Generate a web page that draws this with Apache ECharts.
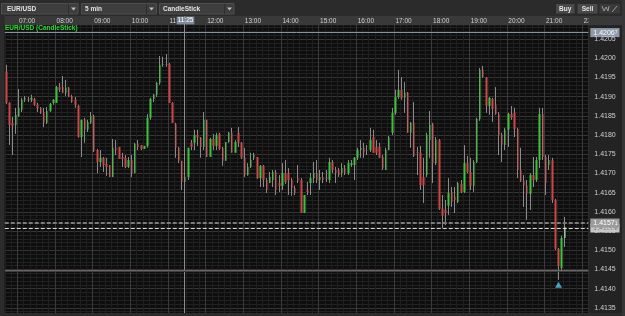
<!DOCTYPE html>
<html><head><meta charset="utf-8">
<script src="https://cdn.jsdelivr.net/npm/echarts@6/dist/echarts.min.js"></script>
<style>html,body{margin:0;padding:0;background:#0e0e0e;}#c{width:625px;height:316px;}</style>
</head><body><div id="c"></div>
<script>
// 5-minute categories (06:40 .. 22:05)
const times = [
"06:40","06:45","06:50","06:55",
"07:00","07:05","07:10","07:15","07:20","07:25","07:30","07:35","07:40","07:45","07:50","07:55",
"08:00","08:05","08:10","08:15","08:20","08:25","08:30","08:35","08:40","08:45","08:50","08:55",
"09:00","09:05","09:10","09:15","09:20","09:25","09:30","09:35","09:40","09:45","09:50","09:55",
"10:00","10:05","10:10","10:15","10:20","10:25","10:30","10:35","10:40","10:45","10:50","10:55",
"11:00","11:05","11:10","11:15","11:20","11:25","11:30","11:35","11:40","11:45","11:50","11:55",
"12:00","12:05","12:10","12:15","12:20","12:25","12:30","12:35","12:40","12:45","12:50","12:55",
"13:00","13:05","13:10","13:15","13:20","13:25","13:30","13:35","13:40","13:45","13:50","13:55",
"14:00","14:05","14:10","14:15","14:20","14:25","14:30","14:35","14:40","14:45","14:50","14:55",
"15:00","15:05","15:10","15:15","15:20","15:25","15:30","15:35","15:40","15:45","15:50","15:55",
"16:00","16:05","16:10","16:15","16:20","16:25","16:30","16:35","16:40","16:45","16:50","16:55",
"17:00","17:05","17:10","17:15","17:20","17:25","17:30","17:35","17:40","17:45","17:50","17:55",
"18:00","18:05","18:10","18:15","18:20","18:25","18:30","18:35","18:40","18:45","18:50","18:55",
"19:00","19:05","19:10","19:15","19:20","19:25","19:30","19:35","19:40","19:45","19:50","19:55",
"20:00","20:05","20:10","20:15","20:20","20:25","20:30","20:35","20:40","20:45","20:50","20:55",
"21:00","21:05","21:10","21:15","21:20","21:25","21:30","21:35","21:40","21:45","21:50","21:55",
"22:00","22:05"];

const opens = [1.41965,1.41884,1.41832,1.41826,1.41850,1.41866,1.41892,1.41894,1.41892,1.41894,1.41879,1.41871,1.41860,1.41832,1.41863,1.41884,1.41884,1.41925,1.41925,1.41910,
1.41923,1.41902,1.41892,1.41876,1.41795,1.41840,1.41814,1.41832,1.41850,1.41761,1.41730,1.41741,1.41725,1.41722,1.41691,1.41767,1.41769,1.41743,1.41741,1.41717,
1.41735,1.41701,1.41777,1.41774,1.41764,1.41772,1.41845,1.41894,1.41905,1.41936,1.41983,1.41985,1.41985,1.41884,1.41829,1.41767,1.41733,1.41678,1.41691,1.41780,
1.41780,1.41800,1.41793,1.41769,1.41840,1.41743,1.41790,1.41772,1.41803,1.41767,1.41733,1.41782,1.41806,1.41754,1.41806,1.41780,1.41741,1.41696,1.41717,1.41741,
1.41743,1.41688,1.41720,1.41683,1.41675,1.41683,1.41704,1.41675,1.41668,1.41701,1.41701,1.41683,1.41662,1.41688,1.41683,1.41597,1.41657,1.41675,1.41688,1.41701,
1.41683,1.41691,1.41688,1.41683,1.41730,1.41709,1.41709,1.41701,1.41714,1.41701,1.41722,1.41722,1.41741,1.41761,1.41767,1.41761,1.41761,1.41795,1.41769,1.41769,
1.41743,1.41709,1.41761,1.41806,1.41858,1.41899,1.41918,1.41897,1.41910,1.41806,1.41832,1.41756,1.41754,1.41691,1.41696,1.41787,1.41829,1.41727,1.41787,1.41608,
1.41605,1.41616,1.41652,1.41639,1.41626,1.41673,1.41652,1.41727,1.41704,1.41668,1.41730,1.41842,1.41970,1.41949,1.41876,1.41894,1.41879,1.41855,1.41800,1.41774,
1.41814,1.41855,1.41858,1.41816,1.41709,1.41681,1.41668,1.41647,1.41696,1.41683,1.41735,1.41855,1.41743,1.41722,1.41735,1.41631,1.41504,1.41454,1.41532];

const closes = [1.41884,1.41826,1.41824,1.41853,1.41871,1.41892,1.41897,1.41892,1.41897,1.41879,1.41871,1.41858,1.41832,1.41863,1.41881,1.41892,1.41925,1.41918,1.41910,1.41923,
1.41899,1.41886,1.41879,1.41795,1.41840,1.41814,1.41834,1.41850,1.41759,1.41730,1.41741,1.41722,1.41717,1.41691,1.41767,1.41761,1.41738,1.41738,1.41717,1.41735,
1.41701,1.41777,1.41769,1.41764,1.41772,1.41845,1.41894,1.41905,1.41936,1.41983,1.41985,1.41983,1.41884,1.41832,1.41767,1.41733,1.41678,1.41691,1.41767,1.41769,
1.41800,1.41793,1.41769,1.41840,1.41743,1.41790,1.41772,1.41800,1.41764,1.41733,1.41782,1.41806,1.41754,1.41782,1.41780,1.41741,1.41696,1.41717,1.41735,1.41748,
1.41688,1.41720,1.41683,1.41657,1.41691,1.41704,1.41657,1.41668,1.41701,1.41678,1.41683,1.41662,1.41649,1.41681,1.41597,1.41644,1.41652,1.41688,1.41701,1.41683,
1.41691,1.41683,1.41686,1.41730,1.41709,1.41701,1.41696,1.41714,1.41701,1.41727,1.41727,1.41741,1.41761,1.41767,1.41754,1.41760,1.41787,1.41754,1.41754,1.41741,
1.41714,1.41761,1.41795,1.41858,1.41899,1.41918,1.41897,1.41910,1.41806,1.41832,1.41746,1.41754,1.41670,1.41670,1.41800,1.41826,1.41727,1.41787,1.41608,1.41590,
1.41597,1.41649,1.41626,1.41631,1.41675,1.41652,1.41727,1.41704,1.41668,1.41730,1.41842,1.41970,1.41951,1.41876,1.41897,1.41868,1.41855,1.41800,1.41774,1.41814,
1.41855,1.41845,1.41816,1.41709,1.41681,1.41668,1.41647,1.41696,1.41683,1.41735,1.41855,1.41743,1.41675,1.41735,1.41631,1.41504,1.41459,1.41532,1.41561];

const highs = [1.41983,1.41886,1.41847,1.41871,1.41920,1.41897,1.41902,1.41899,1.41905,1.41897,1.41884,1.41873,1.41871,1.41873,1.41884,1.41894,1.41928,1.41936,1.41954,1.41944,
1.41925,1.41905,1.41899,1.41879,1.41840,1.41845,1.41840,1.41860,1.41853,1.41764,1.41761,1.41743,1.41741,1.41722,1.41790,1.41787,1.41769,1.41754,1.41748,1.41743,
1.41748,1.41780,1.41787,1.41774,1.41772,1.41855,1.41897,1.41907,1.41938,1.42006,1.42004,1.42011,1.41988,1.41886,1.41832,1.41769,1.41733,1.41701,1.41767,1.41787,
1.41814,1.41814,1.41795,1.41860,1.41840,1.41793,1.41803,1.41806,1.41806,1.41769,1.41782,1.41808,1.41819,1.41787,1.41821,1.41782,1.41767,1.41727,1.41754,1.41754,
1.41743,1.41722,1.41722,1.41688,1.41704,1.41709,1.41709,1.41696,1.41727,1.41735,1.41714,1.41688,1.41668,1.41722,1.41688,1.41644,1.41678,1.41701,1.41730,1.41735,
1.41709,1.41704,1.41709,1.41741,1.41735,1.41717,1.41714,1.41727,1.41722,1.41735,1.41735,1.41743,1.41767,1.41787,1.41780,1.41774,1.41819,1.41814,1.41787,1.41780,
1.41748,1.41767,1.41798,1.41871,1.41918,1.41970,1.41951,1.41938,1.41912,1.41834,1.41886,1.41769,1.41772,1.41741,1.41806,1.41863,1.41832,1.41795,1.41790,1.41644,
1.41631,1.41688,1.41665,1.41665,1.41678,1.41683,1.41774,1.41746,1.41741,1.41735,1.41845,1.41975,1.41980,1.41951,1.41899,1.41897,1.41925,1.41860,1.41806,1.41819,
1.41858,1.41876,1.41871,1.41819,1.41767,1.41696,1.41683,1.41701,1.41743,1.41743,1.41871,1.41871,1.41748,1.41748,1.41741,1.41634,1.41506,1.41538,1.41587];

const lows = [1.41881,1.41774,1.41748,1.41803,1.41847,1.41860,1.41886,1.41886,1.41886,1.41876,1.41860,1.41855,1.41821,1.41829,1.41860,1.41879,1.41884,1.41912,1.41910,1.41902,
1.41899,1.41884,1.41871,1.41793,1.41743,1.41780,1.41808,1.41829,1.41756,1.41701,1.41717,1.41704,1.41694,1.41691,1.41691,1.41748,1.41738,1.41717,1.41714,1.41714,
1.41691,1.41701,1.41761,1.41761,1.41764,1.41767,1.41840,1.41886,1.41899,1.41931,1.41978,1.41978,1.41884,1.41832,1.41741,1.41727,1.41657,1.41657,1.41683,1.41761,
1.41761,1.41772,1.41741,1.41761,1.41743,1.41743,1.41761,1.41761,1.41761,1.41720,1.41733,1.41780,1.41754,1.41754,1.41769,1.41738,1.41691,1.41694,1.41714,1.41735,
1.41686,1.41665,1.41665,1.41649,1.41675,1.41665,1.41644,1.41652,1.41657,1.41673,1.41644,1.41642,1.41644,1.41675,1.41597,1.41597,1.41644,1.41644,1.41675,1.41675,
1.41657,1.41675,1.41678,1.41675,1.41701,1.41675,1.41691,1.41691,1.41696,1.41696,1.41717,1.41683,1.41735,1.41741,1.41741,1.41748,1.41756,1.41754,1.41748,1.41741,
1.41709,1.41709,1.41761,1.41800,1.41853,1.41894,1.41892,1.41858,1.41806,1.41767,1.41743,1.41696,1.41657,1.41623,1.41691,1.41741,1.41675,1.41722,1.41605,1.41558,
1.41566,1.41592,1.41613,1.41597,1.41623,1.41649,1.41649,1.41701,1.41657,1.41652,1.41727,1.41837,1.41949,1.41858,1.41853,1.41834,1.41853,1.41748,1.41730,1.41761,
1.41769,1.41840,1.41795,1.41688,1.41678,1.41613,1.41579,1.41605,1.41665,1.41678,1.41714,1.41735,1.41644,1.41709,1.41623,1.41501,1.41423,1.41449,1.41509];

// price-axis tick labels
const priceTicks = [1.4135,1.4140,1.4145,1.4150,1.4155,1.4160,1.4165,1.4170,1.4175,1.4180,1.4185,1.4190,1.4195,1.4200,1.4205];
// horizontal levels: top line, gray dashed, white dashed, teal, red
const levelPrices = [1.42067, 1.41571, 1.41558, 1.41449, 1.41445];
const markerTime = "21:20";
const cursorTime = "11:25";
const hourLabels = ["07:00","08:00","09:00","10:00","11:00","12:00","13:00","14:00","15:00","16:00","17:00","18:00","19:00","20:00","21:00","22:00"];

const FONT = "'Liberation Sans', Arial, sans-serif";
const N = opens.length;
const wickData = opens.map((o, i) => [o, closes[i], lows[i], highs[i]]);
const bodyData = opens.map((o, i) => {
  const v = [o, closes[i], Math.min(o, closes[i]), Math.max(o, closes[i])];
  if (i === N - 1) return { value: v, itemStyle: { color: '#9df09d', color0: '#9df09d' } };
  return v;
});
const markerIdx = times.indexOf(markerTime);
const isHour = (i, v) => hourLabels.indexOf(v) >= 0;

const tagLabel = (bg, fg) => ({
  show: true, position: 'end', distance: 2,
  formatter: p => { const s = p.value.toFixed(5); return '{a|' + s.slice(0, 6) + '}{b|' + s.slice(6) + '}'; },
  backgroundColor: bg, padding: [1, 2, 0, 3],
  rich: { a: { fontSize: 7, color: fg, fontFamily: FONT, lineHeight: 8 }, b: { fontSize: 5, color: fg, fontFamily: FONT, lineHeight: 8 } }
});

const chart = echarts.init(document.getElementById('c'), null, { renderer: 'canvas' });
const gridTop = 19.9, pxPerStep = 19.2, gridLeft = 4.77, gridW = 583.575;
const option = {
  animation: false,
  backgroundColor: '#0e0e0e',
  title: { text: 'EUR/USD (CandleStick)', left: 5, top: 24.5, padding: 0,
    textStyle: { color: '#2bdc2b', fontSize: 6.5, fontWeight: 'bold', fontFamily: FONT } },
  grid: { left: gridLeft, top: gridTop, width: gridW, height: pxPerStep * 16, containLabel: false, outerBoundsMode: 'none' },
  xAxis: [
    { type: 'category', data: times, position: 'bottom', boundaryGap: true,
      axisLine: { show: false, onZero: false }, axisTick: { show: false }, axisLabel: { show: false },
      splitLine: { show: true, interval: (i) => i % 2 === 0, lineStyle: { color: '#1f1f1f', width: 1 } } },
    { type: 'category', data: times, position: 'bottom', boundaryGap: true,
      axisLine: { show: false, onZero: false }, axisTick: { show: false }, axisLabel: { show: false },
      splitLine: { show: true, interval: isHour, lineStyle: { color: '#3a3a3a', width: 1 } } },
    { type: 'category', data: times, position: 'top', boundaryGap: true, z: 6,
      axisLine: { show: false, onZero: false }, axisTick: { show: false }, splitLine: { show: false },
      axisLabel: { show: true, interval: isHour, inside: true, margin: 1, align: 'left', verticalAlign: 'middle',
        color: '#d2d2d2', fontSize: 6.5, fontFamily: FONT } }
  ],
  yAxis: [
    { type: 'value', min: 1.4130, max: 1.4210, interval: 0.0005, position: 'right',
      axisLine: { show: false, onZero: false }, axisTick: { show: false }, axisLabel: { show: false },
      splitLine: { show: true, lineStyle: { color: '#363636', width: 1 } },
      minorTick: { show: false, splitNumber: 5 },
      minorSplitLine: { show: true, lineStyle: { color: '#212121', width: 1 } } }
  ],
  series: [
    { type: 'candlestick', name: 'wick', xAxisIndex: 0, yAxisIndex: 0, data: wickData, barWidth: 1, silent: true, z: 2,
      itemStyle: { color: '#8a8a8a', color0: '#8a8a8a', borderColor: '#8a8a8a', borderColor0: '#8a8a8a', borderWidth: 1 },
      markLine: { silent: true, symbol: ['none', 'none'], z: 5, animation: false, precision: 5,
        data: [
          { yAxis: levelPrices[0], lineStyle: { color: '#8393a3', type: 'solid', width: 1 }, label: tagLabel('#8e9aa7', '#ffffff') },
          { yAxis: levelPrices[2], lineStyle: { color: '#d8d8d8', type: [4, 2], width: 1 }, label: tagLabel('#c6c6c6', '#666666') },
          { yAxis: levelPrices[1], lineStyle: { color: '#7a7a7a', type: [4, 2], width: 2 }, label: tagLabel('#9c9c9c', '#ffffff') },
          { yAxis: levelPrices[4], lineStyle: { color: '#6e2a2a', type: 'solid', width: 1 }, label: { show: false } },
          { yAxis: levelPrices[3], lineStyle: { color: '#3d7676', type: 'solid', width: 1 }, label: { show: false } }
        ] } },
    { type: 'candlestick', name: 'body', xAxisIndex: 0, yAxisIndex: 0, data: bodyData, barWidth: 2, silent: true, z: 3,
      itemStyle: { color: '#3ec23e', color0: '#cc4646', borderColor: '#3ec23e', borderColor0: '#cc4646', borderWidth: 0 } },
    { type: 'scatter', xAxisIndex: 0, yAxisIndex: 0, silent: true, z: 4,
      data: [[markerTime, lows[markerIdx]]], symbol: 'triangle', symbolSize: [7, 6], symbolOffset: [0, 5],
      itemStyle: { color: '#5ac6ee' } }
  ]
};
chart.setOption(option);

// crosshair at cursor time (band start), located via the axis scale
const c0 = chart.convertToPixel({ xAxisIndex: 0 }, cursorTime);
const c1 = chart.convertToPixel({ xAxisIndex: 0 }, times[times.indexOf(cursorTime) + 1]);
const cx = Math.round(c0 - (c1 - c0) / 2) + 0.5;
const axisX = chart.convertToPixel({ xAxisIndex: 0 }, times[times.length - 1]) + (c1 - c0) / 2;

const R = (x, y, w, h, fill, z, stroke) => ({ type: 'rect', silent: true, z: z, shape: { x, y, width: w, height: h },
  style: stroke ? { fill, stroke, lineWidth: 1 } : { fill } });
const T = (x, y, text, z, opts) => ({ type: 'text', silent: true, z: z, x, y,
  style: Object.assign({ text, fill: '#e4e4e4', font: 'bold 6.5px ' + FONT, textVerticalAlign: 'middle' }, opts || {}) });
const ARROW = (x, y) => ({ type: 'polygon', silent: true, z: 8, shape: { points: [[x - 2.5, y - 1.5], [x + 2.5, y - 1.5], [x, y + 1.5]] }, style: { fill: '#bdbdbd' } });
const LINE = (x1, y1, x2, y2, stroke, z) => ({ type: 'line', silent: true, z: z, shape: { x1, y1, x2, y2 }, style: { stroke, lineWidth: 1 } });

// price tick labels, positioned through the y scale
const priceLabels = priceTicks.map(p => T(axisX + 6, chart.convertToPixel({ yAxisIndex: 0 }, p), p.toFixed(4), 6,
  { fill: '#d0d0d0', font: '7px ' + FONT }));

chart.setOption({ graphic: [
  // toolbar
  R(0, 0, 625, 16, '#2b2b2b', 3),
  R(1.5, 3.5, 76.5, 10.5, '#3e3e3e', 8, '#4e4e4e'), LINE(68.5, 4, 68.5, 14, '#2e2e2e', 8), ARROW(73.5, 9),
  T(7, 9, 'EUR/USD', 9),
  R(81.5, 3.5, 75, 10.5, '#3e3e3e', 8, '#4e4e4e'), LINE(146.5, 4, 146.5, 14, '#2e2e2e', 8), ARROW(151.5, 9),
  T(85, 9, '5 min', 9),
  R(159.5, 3.5, 74.5, 10.5, '#3e3e3e', 8, '#4e4e4e'), LINE(224.5, 4, 224.5, 14, '#2e2e2e', 8), ARROW(229.5, 9),
  T(163, 9, 'CandleStick', 9),
  R(556, 4, 18.5, 9.5, '#4a4a4a', 8), T(565.2, 8.8, 'Buy', 9, { textAlign: 'center' }),
  R(577.5, 4, 20, 9.5, '#4a4a4a', 8), T(587.5, 8.8, 'Sell', 9, { textAlign: 'center' }),
  R(599.5, 4, 20.5, 9.5, '#3a3a3a', 8),
  { type: 'polyline', silent: true, z: 9, shape: { points: [[602, 6], [604, 11], [606, 7], [608, 11], [609, 6]] }, style: { stroke: '#9a9a9a', lineWidth: 1, fill: null } },
  LINE(612, 12, 617, 6, '#9a9a9a', 9),
  R(622, 0, 3, 316, '#363636', 9),
  // time strip
  R(0, 16, 625, 9.3, '#393939', 3),
  R(588.4, 16, 37, 9.3, '#393939', 7),
  // left bar, bottom band, right price panel
  R(0, 16, 4.6, 300, '#2c2c2c', 3),
  R(0, 313, 625, 3, '#2c2c2c', 3),
  R(588.4, 25.3, 33.6, 287.7, '#232323', 3),
  // crosshair
  LINE(cx, 16, cx, 313, '#8c8c8c', 4),
  R(cx - 7.8, 16.6, 17.6, 7.8, '#7e8b98', 8),
  T(cx + 1, 20.6, cursorTime, 9, { textAlign: 'center', fill: '#ffffff', font: '6.5px ' + FONT })
].concat(priceLabels) });
</script>
</body></html>
